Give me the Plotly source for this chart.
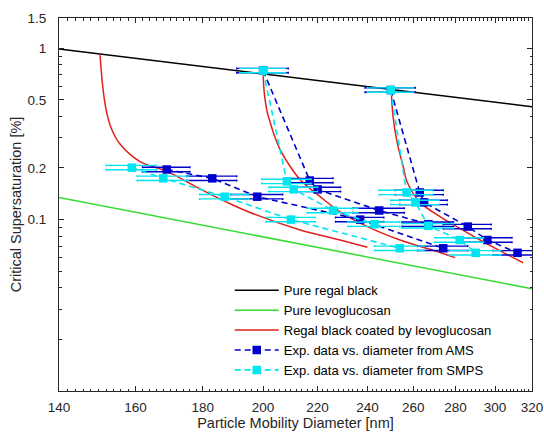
import math
import plotly.graph_objects as go

# ---------------- data ----------------
# Pure regal black (Kelvin line)
rb_d = [140, 320]
rb_s = [0.99, 0.455]
# Pure levoglucosan
lev_d = [140, 320]
lev_s = [0.1345, 0.0395]
# Regal black coated by levoglucosan (three core sizes)
c1_d = [150.4, 150.7, 151.2, 152.0, 153.3, 155.8, 161.3, 169.1, 178.2, 187.8, 195.5, 213.4, 228.8, 240.0]
c1_s = [0.922, 0.754, 0.576, 0.440, 0.345, 0.275, 0.218, 0.191, 0.154, 0.126, 0.110, 0.087, 0.076, 0.069]
c2_d = [200.0, 200.3, 200.7, 201.4, 202.5, 204.2, 206.0, 209.7, 213.4, 221.0, 228.8, 240.0, 254.1, 271.1, 279.8]
c2_s = [0.714, 0.576, 0.503, 0.428, 0.369, 0.302, 0.257, 0.204, 0.171, 0.136, 0.111, 0.091, 0.076, 0.065, 0.060]
c3_d = [250.2, 251.0, 252.8, 255.5, 257.3, 263.2, 272.5, 285.7, 299.0, 315.1]
c3_s = [0.576, 0.400, 0.282, 0.204, 0.165, 0.126, 0.104, 0.084, 0.069, 0.056]

# Experimental data, diameter from AMS
ams1_d = [169, 183, 198, 237, 274]
ams1_s = [0.196, 0.174, 0.136, 0.100, 0.068]
ams1_e = [7, 8, 9, 10, 12]
ams2_d = [200, 217, 220, 245, 267]
ams2_s = [0.74, 0.169, 0.150, 0.113, 0.094]
ams2_e = [9, 9, 9, 11, 12]
ams3_d = [250, 263, 265, 286, 296, 312]
ams3_s = [0.57, 0.144, 0.126, 0.091, 0.076, 0.064]
ams3_e = [11, 11, 11, 12, 13, 13]

# Experimental data, diameter from SMPS
smps1_d = [159, 168, 187, 210, 254]
smps1_s = [0.201, 0.174, 0.136, 0.100, 0.068]
smps1_e = [7, 7.5, 8, 9, 11]
smps2_d = [200, 208.5, 211, 226, 243]
smps2_s = [0.74, 0.167, 0.150, 0.113, 0.094]
smps2_e = [8, 9, 9, 10, 11]
smps3_d = [250, 257, 261, 267, 282, 290]
smps3_s = [0.57, 0.144, 0.126, 0.092, 0.076, 0.064]
smps3_e = [10, 12, 11, 12, 12, 13]

x_ticks = [140, 160, 180, 200, 220, 240, 260, 280, 300, 320]
y_ticks = [0.1, 0.2, 0.5, 1, 1.5]
y_ticklabels = ["0.1", "0.2", "0.5", "1", "1.5"]

# ---------------- styling ----------------
AMS_C = "#0000CC"
SMPS_C = "#00E6F0"
RED = "#E0201C"
GREEN = "#33DD33"
AX = "#262626"
FONT = "Liberation Sans, Arial, sans-serif"

fig = go.Figure()

fig.add_trace(go.Scatter(x=rb_d, y=rb_s, mode="lines", line=dict(color="black", width=1.5),
                         name="Pure regal black", legendrank=1))
fig.add_trace(go.Scatter(x=lev_d, y=lev_s, mode="lines", line=dict(color=GREEN, width=1.5),
                         name="Pure levoglucosan", legendrank=2))
for i, (cd, cs) in enumerate([(c1_d, c1_s), (c2_d, c2_s), (c3_d, c3_s)]):
    fig.add_trace(go.Scatter(x=cd, y=cs, mode="lines", line=dict(color=RED, width=1.5, shape="spline"),
                             name="Regal black coated by levoglucosan", legendgroup="red",
                             showlegend=(i == 0), legendrank=3))

def add_series(chains, color, name, rank):
    # horizontal error bars, drawn as a pair of thin lines
    for d, s, e in chains:
        for f in (1.03, 1 / 1.03):
            fig.add_trace(go.Scatter(
                x=d, y=[v * f for v in s], mode="markers",
                marker=dict(size=1, color="rgba(0,0,0,0)"),
                error_x=dict(type="data", array=e, color=color, thickness=1.4, width=1),
                showlegend=False, hoverinfo="skip"))
    for i, (d, s, e) in enumerate(chains):
        fig.add_trace(go.Scatter(
            x=d, y=s, mode="lines+markers",
            line=dict(color=color, width=1.6, dash="6px,4px"),
            marker=dict(symbol="square", size=8.5, color=color, line=dict(width=0)),
            name=name, legendgroup=name, showlegend=(i == 0), legendrank=rank))

add_series([(ams1_d, ams1_s, ams1_e), (ams2_d, ams2_s, ams2_e), (ams3_d, ams3_s, ams3_e)],
           AMS_C, "Exp. data vs. diameter from AMS", 4)
add_series([(smps1_d, smps1_s, smps1_e), (smps2_d, smps2_s, smps2_e), (smps3_d, smps3_s, smps3_e)],
           SMPS_C, "Exp. data vs. diameter from SMPS", 5)

x_minor = [v for v in range(142, 320, 2) if v not in x_ticks]
y_minor = [0.02, 0.03, 0.04, 0.05, 0.06, 0.07, 0.08, 0.09, 0.3, 0.4, 0.6, 0.7, 0.8, 0.9]

fig.update_layout(
    width=544, height=436,
    margin=dict(l=59, r=12, t=18, b=45),
    paper_bgcolor="white", plot_bgcolor="white",
    font=dict(family=FONT, size=13, color=AX),
    legend=dict(x=0.361, y=0.31, xanchor="left", yanchor="top",
                bgcolor="rgba(255,255,255,0)", borderwidth=0,
                font=dict(size=13, color="black"), itemwidth=44, tracegroupgap=0),
    xaxis=dict(
        type="log", range=[math.log10(140), math.log10(320)], automargin=False,
        tickmode="array", tickvals=x_ticks, ticktext=[str(v) for v in x_ticks],
        ticks="inside", ticklen=5, tickwidth=1, tickcolor=AX,
        showline=True, linecolor=AX, linewidth=1, mirror="allticks",
        showgrid=False, zeroline=False, ticklabelstandoff=4, ticklabeloverflow="allow",
        minor=dict(tickmode="array", tickvals=x_minor, ticks="inside", ticklen=2.5, tickcolor=AX, showgrid=False),
        title=dict(text="Particle Mobility Diameter [nm]", font=dict(size=14.5, color=AX), standoff=3),
        tickfont=dict(size=13.5, color=AX),
    ),
    yaxis=dict(
        type="log", range=[-2, math.log10(1.5)], automargin=False,
        tickmode="array", tickvals=y_ticks, ticktext=y_ticklabels,
        ticks="inside", ticklen=5, tickwidth=1, tickcolor=AX,
        showline=True, linecolor=AX, linewidth=1, mirror="allticks",
        showgrid=False, zeroline=False, ticklabelstandoff=9,
        minor=dict(tickmode="array", tickvals=y_minor, ticks="inside", ticklen=2.5, tickcolor=AX, showgrid=False),
        title=dict(text="Critical Supersaturation [%]", font=dict(size=14.5, color=AX), standoff=2),
        tickfont=dict(size=13.5, color=AX),
    ),
)

# remove the default 8px page margin so the 544x436 figure fills the window exactly
fig.write_html("out.html",
               config={"displayModeBar": False},
               post_script="document.body.style.margin='0';document.body.style.overflow='hidden';")
